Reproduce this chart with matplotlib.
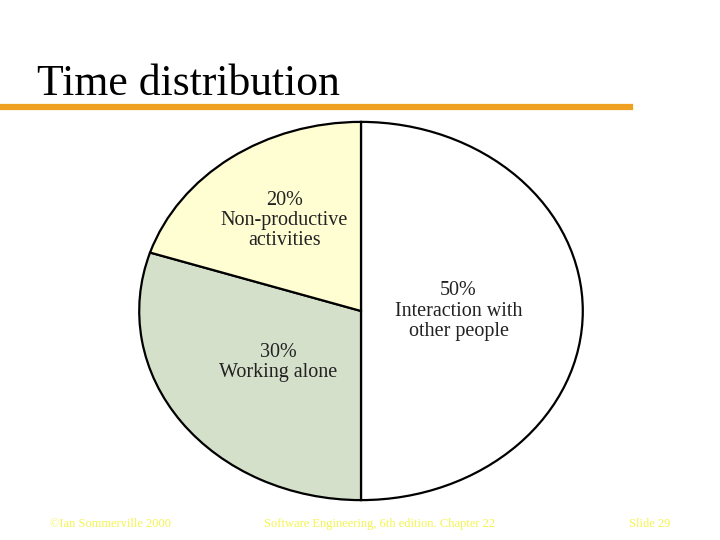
import matplotlib.pyplot as plt
import numpy as np

# slice data (clockwise from 12 o'clock)
shares = [50, 30, 20]
labels = ['50%\nInteraction with\nother people',
          '30%\nWorking alone',
          '20%\nNon-productive\nactivities']
colors = ['#ffffff', '#d5e0cb', '#fffdd2']
label_radius = [0.44, 0.46, 0.59]

title = 'Time distribution'
footer_left = '\u00a9Ian Sommerville 2000'
footer_mid = 'Software Engineering, 6th edition. Chapter 22'
footer_right = 'Slide 29'

plt.rcParams['font.family'] = ['Liberation Serif', 'DejaVu Serif']

fig = plt.figure(figsize=(7.2, 5.4), dpi=100)
fig.patch.set_facecolor('white')

# title and orange rule
fig.text(37 / 720, 1 - 95 / 540, title, fontsize=31.5, color='black',
         ha='left', va='baseline')
fig.add_artist(plt.Line2D([0, 630 / 720], [1 - 107 / 540, 1 - 107 / 540],
                          color='#f0a020', linewidth=4.5,
                          transform=fig.transFigure))

# elliptical pie
ax = fig.add_axes([137 / 720, 38 / 540, 448 / 720, 382 / 540])
wedges, _ = ax.pie(shares, colors=colors, startangle=90, counterclock=False,
                   wedgeprops=dict(edgecolor='black', linewidth=1.6))
ax.set_aspect('auto')
ax.set_xlim(-1.01, 1.01)
ax.set_ylim(-1.01, 1.01)
ax.axis('off')

for w, lab, r in zip(wedges, labels, label_radius):
    mid = np.deg2rad((w.theta1 + w.theta2) / 2)
    ax.text(r * np.cos(mid), r * np.sin(mid), lab, ha='center', va='center',
            fontsize=14.5, linespacing=1.08, color='#222222')

# footer
fcol = '#f4f450'
fig.text(50 / 720, 1 - 524 / 540, footer_left, fontsize=9, color=fcol,
         ha='left', va='center')
fig.text(380 / 720, 1 - 524 / 540, footer_mid, fontsize=9, color=fcol,
         ha='center', va='center')
fig.text(670 / 720, 1 - 524 / 540, footer_right, fontsize=9, color=fcol,
         ha='right', va='center')

fig.savefig('out.png', dpi=100)
